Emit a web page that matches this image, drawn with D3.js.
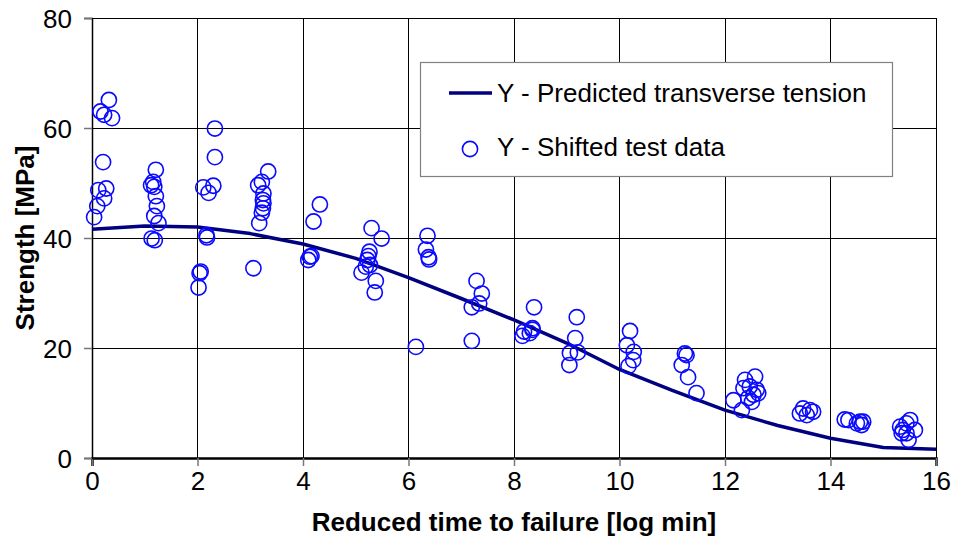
<!DOCTYPE html>
<html>
<head>
<meta charset="utf-8">
<script src="https://cdn.jsdelivr.net/npm/d3@7"></script>
<style>
  html, body { margin: 0; padding: 0; background: #fff; }
  svg { display: block; font-family: "Liberation Sans", Arial, sans-serif; }
</style>
</head>
<body>
<svg id="chart" width="956" height="549"></svg>
<script>
// ---- data ----
const predX = [0, 1, 2, 3, 4, 5, 6, 7, 8, 9, 10, 11, 12, 13, 14, 15, 16];
const predY = [41.6, 42.2, 42.0, 40.8, 38.9, 36.3, 32.8, 29.0, 25.1, 20.9, 16.1, 12.3, 8.7, 5.9, 3.6, 1.9, 1.6];

const testX = [
  0.32, 0.16, 0.23, 0.38, 0.21, 0.12, 0.27, 0.23, 0.10, 0.04,
  1.21, 1.12, 1.16, 1.18, 1.21, 1.23, 1.18, 1.26, 1.13, 1.19,
  2.33, 2.33, 2.11, 2.30, 2.21, 2.17, 2.18, 2.06, 2.04, 2.02,
  3.34, 3.22, 3.15, 3.25, 3.24, 3.25, 3.24, 3.22, 3.17, 3.06,
  4.32, 4.20, 4.13, 4.10, 4.16,
  5.30, 5.49, 5.26, 5.24, 5.22, 5.27, 5.19, 5.11, 5.38, 5.36,
  6.36, 6.33, 6.38, 6.39, 6.14,
  7.29, 7.39, 7.34, 7.20, 7.20,
  8.38, 8.35, 8.19, 8.16, 8.30, 8.35,
  9.19, 9.16, 9.21, 9.06, 9.05,
  10.20, 10.14, 10.27, 10.26, 10.17,
  11.24, 11.27, 11.18, 11.30, 11.46,
  12.57, 12.38, 12.47, 12.60, 12.35, 12.54, 12.44, 12.16, 12.32, 12.63, 12.51,
  13.48, 13.61, 13.42, 13.67, 13.55,
  14.27, 14.34, 14.56, 14.62, 14.59, 14.50,
  15.44, 15.51, 15.32, 15.60, 15.44, 15.35, 15.48, 15.37
];
const testY = [
  65.1, 63.0, 62.4, 61.8, 53.8, 48.7, 49.0, 47.2, 45.8, 43.8,
  52.4, 49.6, 50.2, 49.3, 47.6, 45.8, 44.0, 42.7, 39.9, 39.6,
  59.9, 54.7, 49.2, 49.5, 48.2, 40.5, 40.1, 33.9, 33.6, 31.0,
  52.1, 50.2, 49.6, 48.1, 46.9, 46.3, 45.4, 44.6, 42.7, 34.5,
  46.1, 43.0, 36.6, 36.0, 36.7,
  41.8, 39.9, 37.5, 36.7, 36.0, 35.1, 34.8, 33.7, 32.2, 30.1,
  40.4, 37.9, 36.5, 36.1, 20.2,
  32.2, 29.9, 28.1, 27.4, 21.3,
  27.4, 23.6, 23.0, 22.2, 22.7, 23.3,
  25.6, 21.8, 19.2, 19.1, 16.9,
  23.1, 20.5, 19.3, 17.8, 16.7,
  19.0, 18.7, 16.9, 14.7, 11.8,
  14.8, 14.2, 13.0, 12.4, 12.7, 11.5, 10.9, 10.5, 8.7, 11.8, 10.2,
  9.0, 8.7, 8.1, 8.4, 7.8,
  7.0, 6.9, 6.6, 6.6, 6.0, 6.3,
  6.3, 6.9, 5.7, 5.1, 4.5, 4.5, 3.3, 5.1
];

const xTicks = [0, 2, 4, 6, 8, 10, 12, 14, 16];
const yTicks = [0, 20, 40, 60, 80];
const seriesNames = ["Y - Predicted transverse tension", "Y - Shifted test data"];
const xTitle = "Reduced time to failure [log min]";
const yTitle = "Strength [MPa]";

// ---- layout ----
const W = 956, H = 549;
const m = { left: 92, right: 20, top: 18, bottom: 91 };
const svg = d3.select("#chart");

const x = d3.scaleLinear().domain([0, 16]).range([m.left, W - m.right]);
const y = d3.scaleLinear().domain([0, 80]).range([H - m.bottom, m.top]);

// gridlines
const g = svg.append("g");
g.selectAll(".vg").data(xTicks.slice(1)).enter().append("line")
  .attr("x1", d => x(d)).attr("x2", d => x(d))
  .attr("y1", y(80)).attr("y2", y(0))
  .attr("stroke", "#000").attr("stroke-width", 1).attr("shape-rendering", "crispEdges");
g.selectAll(".hg").data(yTicks.slice(1)).enter().append("line")
  .attr("x1", x(0)).attr("x2", x(16))
  .attr("y1", d => y(d)).attr("y2", d => y(d))
  .attr("stroke", "#000").attr("stroke-width", 1).attr("shape-rendering", "crispEdges");

// axes
const xAxis = svg.append("g").attr("transform", `translate(0,${y(0)})`)
  .call(d3.axisBottom(x).tickValues(xTicks).tickSize(8).tickPadding(6).tickFormat(d3.format("d")));
const yAxis = svg.append("g").attr("transform", `translate(${x(0)},0)`)
  .call(d3.axisLeft(y).tickValues(yTicks).tickSize(8).tickPadding(12).tickFormat(d3.format("d")));
[xAxis, yAxis].forEach(a => {
  a.selectAll("text").attr("font-size", 26).attr("fill", "#000")
    .attr("font-family", "'Liberation Sans', Arial, sans-serif");
  a.selectAll(".tick line").attr("stroke", "#777").attr("stroke-width", 1.5);
});
xAxis.select(".domain").attr("stroke", "#000").attr("stroke-width", 2.5);
yAxis.select(".domain").attr("stroke", "#000").attr("stroke-width", 1.5);
xAxis.selectAll("text").attr("dy", "0.71em");
yAxis.selectAll("text").attr("dy", "0.35em");

// prediction line
const line = d3.line().x((d, i) => x(predX[i])).y(d => y(d));
svg.append("path").datum(predY)
  .attr("d", line)
  .attr("fill", "none").attr("stroke", "#000080").attr("stroke-width", 3.5)
  .attr("stroke-linejoin", "round");

// scatter points
svg.append("g").selectAll("circle").data(testX).enter().append("circle")
  .attr("cx", d => x(d)).attr("cy", (d, i) => y(testY[i]))
  .attr("r", 7.6)
  .attr("fill", "none").attr("stroke", "#0a0aff").attr("stroke-width", 1.6);

// legend
const lg = svg.append("g");
lg.append("rect").attr("x", 420.5).attr("y", 62.5).attr("width", 472).attr("height", 114)
  .attr("fill", "#fff").attr("stroke", "#808080").attr("stroke-width", 1.2);
lg.append("line").attr("x1", 449).attr("x2", 492).attr("y1", 93).attr("y2", 93)
  .attr("stroke", "#000080").attr("stroke-width", 3.5);
lg.append("circle").attr("cx", 470).attr("cy", 149).attr("r", 7.6)
  .attr("fill", "none").attr("stroke", "#0a0aff").attr("stroke-width", 1.6);
lg.selectAll("text").data(seriesNames).enter().append("text")
  .attr("x", 497).attr("y", (d, i) => i === 0 ? 101.5 : 156)
  .attr("font-size", 26).attr("fill", "#000")
  .text(d => d);

// axis titles
svg.append("text").attr("x", (x(0) + x(16)) / 2).attr("y", 531)
  .attr("text-anchor", "middle").attr("font-size", 26).attr("font-weight", "bold")
  .text(xTitle);
svg.append("text").attr("transform", `translate(34,${(y(0) + y(80)) / 2}) rotate(-90)`)
  .attr("text-anchor", "middle").attr("font-size", 26).attr("font-weight", "bold")
  .text(yTitle);
</script>
</body>
</html>
